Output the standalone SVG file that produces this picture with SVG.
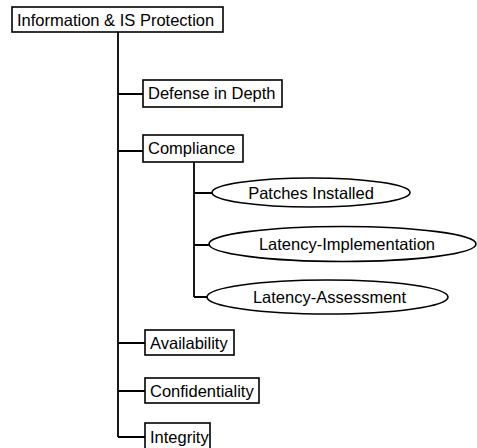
<svg xmlns="http://www.w3.org/2000/svg" width="477" height="448" viewBox="0 0 477 448">
<style>
.box{fill:#fff;stroke:#000;stroke-width:1.6}
.ell{fill:#fff;stroke:#000;stroke-width:1.6}
.t{font-family:"Liberation Sans",Arial,sans-serif;font-size:16.5px;fill:#000}
.c{text-anchor:middle}
.ln{stroke:#000;stroke-width:1.8;fill:none}
</style>
<rect width="477" height="448" fill="#fff"/>
<g id="connectors">
<path class="ln" d="M118,32 V437 M118,94 H143 M118,151 H143 M118,343 H145 M118,391 H145 M118,437 H145"/>
<path class="ln" d="M194,162 V297 M194,193 H212 M194,245 H209 M194,297 H207"/>
</g>
<g id="root">
<rect class="box" x="12" y="7" width="211" height="25"/>
<text class="t" x="17" y="26">Information &amp; IS Protection</text>
</g>
<g id="defense">
<rect class="box" x="143" y="80" width="139" height="27"/>
<text class="t" x="148" y="99">Defense in Depth</text>
</g>
<g id="compliance">
<rect class="box" x="143" y="135" width="100" height="27"/>
<text class="t" x="148" y="154">Compliance</text>
</g>
<g id="patches">
<ellipse class="ell" cx="311" cy="192.5" rx="99" ry="14.5"/>
<text class="t c" x="311" y="198.5">Patches Installed</text>
</g>
<g id="latency-impl">
<ellipse class="ell" cx="342.5" cy="244" rx="133.5" ry="17.5"/>
<text class="t c" x="347" y="250">Latency-Implementation</text>
</g>
<g id="latency-assess">
<ellipse class="ell" cx="327.5" cy="297" rx="120.5" ry="17"/>
<text class="t c" x="329.5" y="303">Latency-Assessment</text>
</g>
<g id="availability">
<rect class="box" x="145" y="330" width="89" height="25"/>
<text class="t" x="150" y="349">Availability</text>
</g>
<g id="confidentiality">
<rect class="box" x="145" y="378" width="114" height="25"/>
<text class="t" x="150" y="397">Confidentiality</text>
</g>
<g id="integrity">
<rect class="box" x="145" y="423" width="65" height="30"/>
<text class="t" x="150" y="443">Integrity</text>
</g>
</svg>
